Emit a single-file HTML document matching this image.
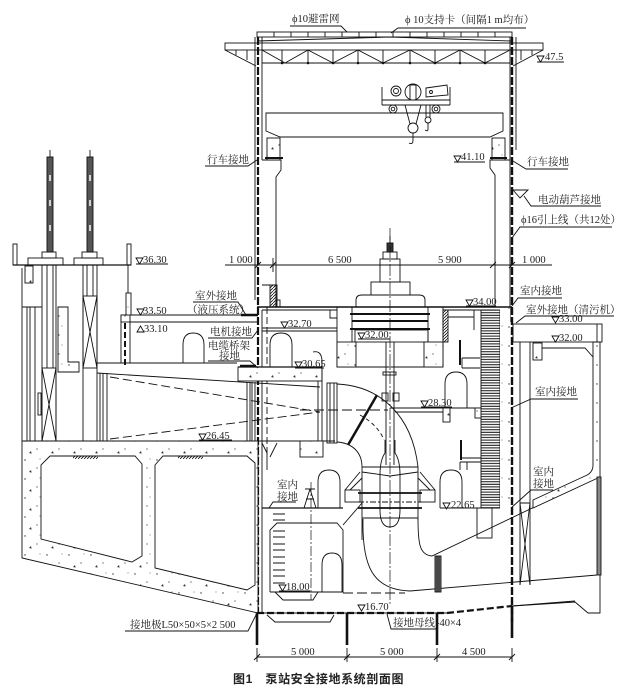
<!DOCTYPE html>
<html><head><meta charset="utf-8">
<style>
html,body{margin:0;padding:0;background:#fff;}
svg{display:block;}
text{font-family:"Liberation Serif","Noto Serif CJK SC",serif;font-size:10.5px;fill:#222;stroke:none;}
.cap{font-family:"Liberation Sans","Noto Sans CJK SC",sans-serif;font-weight:bold;font-size:12px;fill:#222;letter-spacing:0.6px;}
</style></head><body>
<svg width="633" height="690" viewBox="0 0 633 690" xmlns="http://www.w3.org/2000/svg">
<defs>
<pattern id="conc" width="22" height="19" patternUnits="userSpaceOnUse">
 <rect width="22" height="19" fill="#fff"/>
 <circle cx="3" cy="4" r="0.7" fill="#333"/>
 <circle cx="15" cy="12" r="0.6" fill="#333"/>
 <path d="M7 16 l2 -2 l0.6 2.6z" fill="#333"/>
 <circle cx="18" cy="3" r="0.5" fill="#444"/>
</pattern>
<pattern id="hatch" width="4" height="2.6" patternUnits="userSpaceOnUse">
 <rect width="4" height="2.6" fill="#fff"/>
 <line x1="0" y1="0.7" x2="4" y2="0.7" stroke="#111" stroke-width="1"/>
</pattern>
<pattern id="diag" width="3" height="3" patternUnits="userSpaceOnUse">
 <line x1="0" y1="3" x2="3" y2="0" stroke="#111" stroke-width="0.8"/>
</pattern>
</defs>

<g fill="none" stroke="#111" stroke-width="0.9">

<!-- ===== ROOF ===== -->
<rect x="257" y="32" width="255" height="5"/>
<path d="M274 32v5M291 32v5M308 32v5M325 32v5M342 32v5M359 32v5M376 32v5M393 32v5M410 32v5M427 32v5M444 32v5M461 32v5M478 32v5M495 32v5"/>
<rect x="225" y="43" width="318" height="7"/>
<path d="M257 41 L390 37 L512 41"/>
<path d="M262 63H510"/>
<path d="M282 50V63M308 50V63M333 50V63M358 50V63M383 50V63M410 50V63M435 50V63M460 50V63M485 50V63"/>
<path d="M262 50L285 63L308 50L333 63L358 50L383 63L410 50L435 63L460 50L485 63L510 50"/>
<g fill="#111" stroke="none">
<circle cx="282" cy="63" r="1.3"/><circle cx="308" cy="63" r="1.3"/><circle cx="333" cy="63" r="1.3"/><circle cx="358" cy="63" r="1.3"/><circle cx="383" cy="63" r="1.3"/><circle cx="410" cy="63" r="1.3"/><circle cx="435" cy="63" r="1.3"/><circle cx="460" cy="63" r="1.3"/><circle cx="485" cy="63" r="1.3"/>
</g>
<path d="M225 50L256 66M236 50V55M247 50V60"/>
<path d="M543 50L513 66M532 50V55M521 50V60"/>

<!-- ===== COLUMNS ===== -->
<path d="M255 37V300M262 37V160M510 37V322M516 37V150"/>
<path d="M262 160H281V170L276 177V285"/>
<path d="M510 160H490V168L495 175V307"/>
<rect x="267" y="138" width="13" height="22" fill="url(#conc)"/>
<rect x="492" y="138" width="13" height="22" fill="url(#conc)"/>
<path d="M265 158H283M490 158H507" stroke-width="2"/>

<!-- crane -->
<path d="M266 113 H503 V131 L490 137 H280 L266 131 Z"/>
<path d="M382 87V100M450 87V100M382 100H450M382 105H450M382 100V105M450 100V105"/>
<circle cx="396" cy="91" r="5"/><circle cx="396" cy="91" r="2.5"/>
<circle cx="413" cy="92" r="8"/><rect x="410" y="85" width="6" height="15"/>
<path d="M426 88 L447 85 L448 95 L426 97 Z"/><circle cx="431" cy="92" r="1.5"/>
<circle cx="393" cy="109" r="4"/><circle cx="436" cy="109" r="4"/>
<circle cx="393" cy="109" r="1.8"/><circle cx="436" cy="109" r="1.8"/>
<path d="M405 105 L410 124 M421 105 L416 124"/>
<circle cx="413" cy="128" r="5"/>
<path d="M413 133 V140 Q413 145 409 143"/>
<path d="M426 105 V117 M430 105 V117"/><circle cx="428" cy="120" r="3"/>
<path d="M428 123 V129 Q428 132 425 130"/>

<!-- ground down-leads (thick dashed) -->
<path d="M258 37 V613" stroke-width="2.2" stroke-dasharray="8 2"/>
<path d="M512 37 V622" stroke-width="2.4" stroke-dasharray="8 2"/>

<!-- ===== DIMENSION LINE y265 ===== -->
<path d="M225 265 H552"/>
<path d="M255 268 L261 262 M270 268 L276 262 M490 268 L496 262 M509 268 L515 262"/>
<path d="M273 258 V272"/>

<!-- ===== GENERATOR ===== -->
<path d="M390 236 V244"/>
<rect x="387" y="243" width="6" height="9" fill="#333"/>
<rect x="383" y="252" width="14" height="7"/>
<rect x="380" y="259" width="20" height="23"/>
<rect x="371" y="282" width="39" height="13"/>
<path d="M356 307 V300 Q356 295 362 295 H419 Q425 295 425 300 V307"/>
<path d="M257 307 H512" stroke-width="1.6"/>
<path d="M262 310 H337 M443 310 H495"/>
<path d="M350 314 H430 M352 321 H428 M350 329 H430" stroke-width="2"/>
<path d="M352 307 V342 M428 307 V342"/>
<rect x="355" y="330" width="73" height="12"/>
<path d="M330 310 V318 H337"/>
<path d="M262 328 H337 M262 331 H337"/>
<path d="M337 307 V367 H443 V307"/>
<rect x="337" y="342" width="19" height="25" fill="url(#conc)"/>
<rect x="424" y="342" width="19" height="25" fill="url(#conc)"/>
<rect x="443" y="310" width="5" height="32" fill="url(#diag)"/>
<path d="M448 317 H474 V310 M474 317 V330"/>
<!-- shaft -->
<path d="M386 342 V465 M394 342 V465"/>
<rect x="383" y="372" width="13" height="3"/>
<rect x="382" y="393" width="6" height="8"/><rect x="393" y="393" width="6" height="8"/>
<!-- centerline -->
<path d="M390 228 V605" stroke-width="0.7" stroke-dasharray="12 2 2 2"/>

<!-- ===== LEFT UPPER AREA (motor floor) ===== -->
<path d="M262 285 H277 V307"/>
<rect x="270" y="285" width="6" height="22" fill="url(#diag)"/>
<rect x="276" y="300" width="4" height="7"/>
<path d="M270 367 V345 Q270 333 281 333 Q292 333 292 345 V367"/>
<path d="M267 307 V455" stroke-dasharray="7 3"/>
<path d="M262 310 V613"/>
<rect x="238" y="367" width="84" height="14" fill="url(#conc)"/>
<path d="M238 367 H322" stroke-width="1.2"/>
<path d="M313 352 Q321 350 322 360 V447 M318 381 V447"/>
<path d="M247 382V441 M250 382V441 M252 382V441 M255 382V441"/>
<rect x="327" y="383" width="10" height="60"/>
<path d="M330 383 V443 M334 383 V443"/>

<!-- left slab 33.50 -->
<path d="M121 315 H258 M121 315 V363 M130 322 H258 M130 322 V363 M97 363 H237"/>
<rect x="121" y="315" width="9" height="7" fill="url(#conc)"/>
<path d="M125 323 V365" stroke-width="2" stroke-dasharray="6 3"/>
<path d="M183 363 V345 Q183 333 193 333 Q204 333 204 345 V363"/>
<path d="M241 315 H258" stroke-width="2.5"/>
<path d="M240 366 H256" stroke-width="2.5"/>

<!-- ===== LEFT PIERS ===== -->
<path d="M13 265 H131" stroke-width="1.2"/>
<rect x="13" y="244" width="4" height="21"/>
<rect x="127" y="244" width="4" height="21"/>
<path d="M128 265 V293"/>
<rect x="126" y="293" width="5" height="22" fill="url(#conc)"/>
<rect x="25" y="266" width="8" height="17" fill="url(#conc)"/>
<!-- pier1 -->
<rect x="47" y="157" width="6" height="95" fill="#555"/>
<path d="M50 150 V157"/>
<path d="M50 175 v6 M50 200 v6 M50 225 v6" stroke="#fff" stroke-width="1.5"/>
<rect x="42" y="252" width="14" height="6"/>
<rect x="28" y="258" width="35" height="7"/>
<path d="M42 265 V441 M47 265 V368 M53 265 V368 M56 265 V441"/>
<rect x="42" y="368" width="14" height="73"/>
<path d="M42 368 L56 441 M56 368 L42 441"/>
<!-- pier2 -->
<rect x="87" y="157" width="6" height="95" fill="#555"/>
<path d="M90 150 V157"/>
<path d="M90 175 v6 M90 200 v6 M90 225 v6" stroke="#fff" stroke-width="1.5"/>
<rect x="82" y="252" width="15" height="6"/>
<rect x="74" y="258" width="29" height="7"/>
<path d="M83 265 V441 M87 265 V296 M93 265 V296 M97 265 V441"/>
<rect x="83" y="296" width="14" height="72"/>
<path d="M83 296 L97 368 M97 296 L83 368"/>
<!-- left block -->
<path d="M22 268 V441 M27 307 V441 M30 307 V441 M35 307 V441 M22 307 H42"/>
<rect x="38" y="393" width="3" height="22"/>
<path d="M58 307 H68 V362 H79 V372 H58 Z" fill="url(#conc)"/>
<!-- right of pier2 -->
<path d="M97 373 L320 387"/>
<path d="M100 373 V441 M103 373 V441 M107 373 V441"/>
<path d="M110 377 L320 412 M110 439 L320 412" stroke-dasharray="9 4"/>

<!-- ===== BASE CULVERT ===== -->
<path d="M22 441 H258 V613 L22 558 Z" fill="url(#conc)"/>
<path d="M50 456 H135 L142 464 V556 L132 562 L41 539 V465 Z" fill="#fff"/>
<path d="M163 456 H247 L255 463 V585 L247 590 L155 568 V465 Z" fill="#fff"/>
<rect x="73" y="456" width="25" height="3" fill="url(#diag)" stroke="none"/>
<rect x="178" y="456" width="25" height="3" fill="url(#diag)" stroke="none"/>
<path d="M258 441 H335"/>
<path d="M262 443 L267 453 V470 M277 443 L270 457"/>

<!-- ===== PUMP ROOM LEFT LOWER ===== -->
<path d="M262 508 H343" stroke-width="1.2"/>
<path d="M318 508 V482 Q318 470 329 470 Q340 470 340 482 V508"/>
<path d="M310 489 L304 508 M310 489 L316 508 M306 499 H314 M305 489 H315"/>
<path d="M311 482 V600" stroke-width="0.7" stroke-dasharray="10 2 2 2"/>
<path d="M270 592 V530 L277 523 H337 L343 530 V592 H270"/>
<path d="M322 592 V565 Q322 553 332 553 Q342 553 342 565 V592"/>
<path d="M273 514H285M273 520H285M273 531H285M273 537H285M273 544H285M273 550H285M273 557H285M273 563H285M273 570H285M273 576H285M273 583H285"/>
<path d="M275 592 L283 600 H313 L318 592"/>
<path d="M343 593 H405" stroke-dasharray="10 4"/>
<path d="M343 525 L362 503"/>
<path d="M267 615 L275 622 H330 L334 615"/>

<!-- ===== PUMP & ELBOW ===== -->
<path d="M337 384 C380 386 412 415 418 467"/>
<path d="M337 442 C352 443 362 452 362 467"/>
<path d="M348 445 L377 395" stroke-width="2.5"/>
<path d="M360 415 Q378 425 384 440" stroke-dasharray="4 3"/>
<path d="M300 410 H388" stroke-dasharray="10 4"/>
<rect x="300" y="441" width="23" height="16" fill="url(#conc)"/>
<!-- casing -->
<path d="M362 467 H418 M362 467 V540 M418 467 V520"/>
<path d="M358 493 H422 M358 508 H422" stroke-width="1.8"/>
<path d="M362 518 H418"/>
<path d="M362 472 L390 476 L418 472"/>
<path d="M358 502 H422" stroke-dasharray="6 2 2 2"/>
<path d="M385 440 V453 Q380 460 380 475 V510 Q380 527 390 527 Q400 527 400 510 V475 Q400 460 395 453 V440"/>
<path d="M345 490 L360 472 M350 490 L362 478"/>
<rect x="345" y="490" width="15" height="12"/>
<path d="M435 490 L420 472 M430 490 L418 478"/>
<rect x="420" y="490" width="15" height="12"/>
<!-- inlet -->
<path d="M363 519 C362 565 372 590 410 591 L597 575"/>
<path d="M418 519 C418 545 420 555 432 556 L597 477"/>
<rect x="435" y="556" width="6" height="36" fill="#777"/>
<path d="M437 556 V592 M439 556 V592"/>

<!-- ===== RIGHT ROOMS ===== -->
<path d="M390 408 H500 M395 412 H445"/>
<rect x="443" y="408" width="7" height="14" fill="url(#conc)"/>
<rect x="475" y="408" width="7" height="10" fill="url(#conc)"/>
<path d="M445 408 V384 Q445 372 456 372 Q467 372 467 384 V408"/>
<path d="M440 508 H510"/>
<path d="M440 508 V482 Q440 470 451 470 Q462 470 462 482 V508"/>
<rect x="477" y="508" width="15" height="30"/>
<path d="M461 440 V460 M460 340 V365" stroke-width="2"/>
<path d="M460 458 H500 M460 462 H500 M467 462 V470 M460 462 V470"/>
<path d="M462 358 H480 M462 368 H480 M462 358 V368"/>
<!-- stair -->
<rect x="481" y="310" width="19" height="198" fill="url(#hatch)"/>
<rect x="500" y="308" width="10" height="202" fill="url(#conc)" stroke="none"/>

<!-- ===== RIGHT CULVERT ===== -->
<rect x="513" y="324" width="89" height="18"/>
<path d="M597 324 V342"/>
<path d="M520 342 V585 M530 342 V585"/>
<path d="M520 503 L530 585 M530 503 L520 585 M520 503 H530"/>
<path d="M593 342 V465 Q593 473 585 476 L533 500 V508 L600 477 V342 Z" fill="url(#conc)"/>
<path d="M540 348 H585 L593 357"/>
<rect x="533" y="343" width="9" height="17" fill="url(#conc)"/>
<rect x="597" y="477" width="4" height="98" fill="#888"/>
<path d="M600 575 V613 H588 L575 602 L512 606"/>
<path d="M257 613 H447" stroke-width="0.9"/>
<path d="M257 613 H447 L512 606" stroke-width="2.2" stroke-dasharray="7 3"/>
<path d="M512 606 L575 601"/>

<!-- ground rods -->
<path d="M257 613 V645 M347 613 V645 M437 613 V645 M512 606 V638" stroke-width="2.6"/>

<!-- bottom dimension -->
<path d="M257 657 H512"/>
<path d="M257 648 V662 M347 648 V662 M437 648 V662 M512 648 V662"/>
<path d="M254 660 L260 654 M344 660 L350 654 M434 660 L440 654 M509 660 L515 654"/>

<!-- ===== ELEVATION MARKS ===== -->
<path d="M537 56h7l-3.5 6z M537 62H564"/>
<path d="M454 156h7l-3.5 6z M454 162H485"/>
<path d="M136 258h7l-3.5 6z M136 264H168"/>
<path d="M137 309h7l-3.5 6z M137 315H168"/>
<path d="M137 332h7l-3.5 -6z"/>
<path d="M281 322h7l-3.5 6z M281 328H312"/>
<path d="M295 362h7l-3.5 6z M295 368H324"/>
<path d="M466 300h7l-3.5 6z M466 306H496"/>
<path d="M358 333h7l-3.5 6z M358 339H390"/>
<path d="M552 317h7l-3.5 6z"/>
<path d="M552 336h7l-3.5 6z"/>
<path d="M421 401h7l-3.5 6z M421 407H452"/>
<path d="M443 503h7l-3.5 6z"/>
<path d="M199 434h7l-3.5 6z M199 440H232"/>
<path d="M279 585h7l-3.5 6z M279 591H310"/>
<path d="M358 605h7l-3.5 6z"/>

<!-- ===== LEADERS ===== -->
<path d="M290 26 H341 L347 32"/>
<path d="M526 28 H398 L391 33"/>
<path d="M205 166 H248 L257 160"/>
<path d="M568 169 H526 L513 161"/>
<path d="M513 190 H528 L520 198 Z M524 196 L531 206 H601"/>
<path d="M612 227 H520 L512 238"/>
<path d="M562 298 H518 L512 306"/>
<path d="M614 316 H525 L516 323"/>
<path d="M193 302 H238 L246 315"/>
<path d="M208 338 H252 L258 330"/>
<path d="M208 361 H250 L258 368"/>
<path d="M578 399 H531 L511 408"/>
<path d="M553 490 H531 L511 508"/>
<path d="M296 502 H273 L269 508"/>
<path d="M125 631 H248 L257 613"/>
<path d="M436 629 H391 L387 614"/>
</g>

<!-- ===== TEXT ===== -->
<text x="292" y="22">ϕ10避雷网</text>
<text x="405" y="23">ϕ 10支持卡（间隔1 m均布）</text>
<text x="545" y="60">47.5</text>
<text x="207" y="163">行车接地</text>
<text x="461" y="160">41.10</text>
<text x="527" y="165">行车接地</text>
<text x="538" y="203">电动葫芦接地</text>
<text x="521" y="223">ϕ16引上线（共12处）</text>
<text x="229" y="263">1 000</text>
<text x="328" y="263">6 500</text>
<text x="438" y="263">5 900</text>
<text x="522" y="263">1 000</text>
<text x="143" y="263">36.30</text>
<text x="520" y="294">室内接地</text>
<text x="473" y="305">34.00</text>
<text x="526" y="313">室外接地（清污机）</text>
<text x="559" y="322">33.00</text>
<text x="559" y="341">32.00</text>
<text x="195" y="299">室外接地</text>
<text x="187" y="313">（液压系统）</text>
<text x="143" y="314">33.50</text>
<text x="144" y="332">33.10</text>
<text x="288" y="327">32.70</text>
<text x="210" y="335">电机接地</text>
<text x="208" y="349">电缆桥架</text>
<text x="219" y="359">接地</text>
<text x="365" y="338">32.00</text>
<text x="302" y="367">30.65</text>
<text x="535" y="395">室内接地</text>
<text x="428" y="406">28.30</text>
<text x="206" y="439">26.45</text>
<text x="533" y="475">室内</text>
<text x="533" y="487">接地</text>
<text x="277" y="488">室内</text>
<text x="277" y="500">接地</text>
<text x="451" y="508">22.65</text>
<text x="286" y="590">18.00</text>
<text x="365" y="610">16.70</text>
<text x="130" y="628">接地极L50×50×5×2 500</text>
<text x="393" y="626">接地母线</text>
<text x="436" y="626">-40×4</text>
<text x="291" y="655">5 000</text>
<text x="380" y="655">5 000</text>
<text x="462" y="655">4 500</text>
<text class="cap" x="233" y="683">图1　泵站安全接地系统剖面图</text>
</svg>
</body></html>
